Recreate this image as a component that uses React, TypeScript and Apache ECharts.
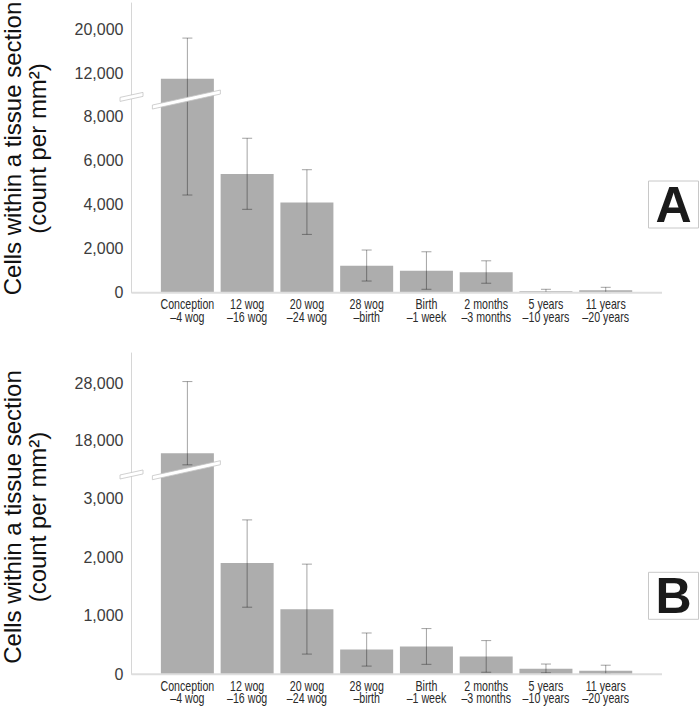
import React, { useEffect, useRef } from "react";
import * as echarts from "echarts";

// ---------- data ----------
const categories = [
  "Conception\n–4 wog",
  "12 wog\n–16 wog",
  "20 wog\n–24 wog",
  "28 wog\n–birth",
  "Birth\n–1 week",
  "2 months\n–3 months",
  "5 years\n–10 years",
  "11 years\n–20 years",
];

const meanA = [11000, 5400, 4100, 1230, 1000, 930, 65, 110];
const lowA = [4440, 3790, 2650, 530, 155, 430, 0, 0];
const highA = [18400, 7020, 5590, 1940, 1860, 1450, 155, 245];

const meanB = [15800, 1900, 1110, 425, 475, 305, 95, 60];
const lowB = [13800, 1145, 345, 140, 170, 35, 25, 5];
const highB = [28300, 2635, 1880, 705, 780, 575, 175, 155];

const ticksA = [0, 2000, 4000, 6000, 8000, 12000, 20000];
const ticksB = [0, 1000, 2000, 3000, 18000, 28000];

// ---------- scale-break definitions (axis units) ----------
const breakA = { lowerMax: 8900, anchorV: 12000, anchorT: 9973, slope: 0.25, axisT: 8900, barT: 8780, max: 13168 };
const breakB = { lowerMax: 3450, anchorV: 18000, anchorT: 3986, slope: 0.098, axisT: 3410, barT: 3483, max: 5483 };

const makeTf = (b: any) => (v: number) => (v <= b.lowerMax ? v : b.anchorT + (v - b.anchorV) * b.slope);

// ---------- layout ----------
const GRID_LEFT = 157.5;
const GRID_RIGHT = 64.4;
const Y_OFFSET = 26;
const AXIS_END_X = 662;
const FONT = "Liberation Sans";

function panelSeries(idx: number, mean: number[], low: number[], high: number[], ticks: number[], b: any) {
  const tf = makeTf(b);
  const errStyle = { stroke: "rgba(0,0,0,0.36)", lineWidth: 1 };
  return [
    {
      type: "bar",
      xAxisIndex: idx,
      yAxisIndex: idx,
      data: mean.map(tf),
      barWidth: 53,
      itemStyle: { color: "#adadad" },
      silent: true,
      z: 2,
    },
    {
      type: "custom",
      xAxisIndex: idx,
      yAxisIndex: idx,
      silent: true,
      z: 3,
      data: mean.map((_, i) => [i, tf(low[i]), tf(high[i])]),
      renderItem: (params: any, api: any) => {
        const i = api.value(0);
        const lo = api.coord([i, api.value(1)]);
        const hi = api.coord([i, api.value(2)]);
        const cap = 5;
        return {
          type: "group",
          children: [
            { type: "line", shape: { x1: lo[0], y1: lo[1], x2: hi[0], y2: hi[1] }, style: errStyle },
            { type: "line", shape: { x1: lo[0] - cap, y1: lo[1], x2: lo[0] + cap, y2: lo[1] }, style: errStyle },
            { type: "line", shape: { x1: hi[0] - cap, y1: hi[1], x2: hi[0] + cap, y2: hi[1] }, style: errStyle },
          ],
        };
      },
    },
    // y tick labels
    {
      type: "custom",
      xAxisIndex: idx,
      yAxisIndex: idx,
      silent: true,
      clip: false,
      z: 4,
      data: ticks.map((v) => [0, tf(v), v]),
      renderItem: (params: any, api: any) => {
        const p = api.coord([0, api.value(1)]);
        const x = params.coordSys.x - Y_OFFSET - 8;
        return {
          type: "text",
          x,
          y: p[1],
          style: {
            text: Number(api.value(2)).toLocaleString("en-US"),
            fill: "#3c3c3c",
            fontFamily: FONT,
            fontSize: 16,
            align: "right",
            verticalAlign: "middle",
          },
        };
      },
    },
    // x category labels (condensed)
    {
      type: "custom",
      xAxisIndex: idx,
      yAxisIndex: idx,
      silent: true,
      clip: false,
      z: 4,
      data: categories.map((_, i) => [i, 0]),
      renderItem: (params: any, api: any) => {
        const i = api.value(0);
        const p = api.coord([i, 0]);
        const lines = categories[i].split("\n");
        return {
          type: "group",
          children: lines.map((t, k) => ({
            type: "text",
            x: p[0],
            y: p[1] + 12 + k * 12.4,
            scaleX: 0.76,
            style: {
              text: t,
              fill: "#2a2a2a",
              fontFamily: FONT,
              fontSize: 14,
              align: "center",
              verticalAlign: "middle",
            },
          })),
        };
      },
    },
    // baseline + break marks
    {
      type: "custom",
      xAxisIndex: idx,
      yAxisIndex: idx,
      silent: true,
      clip: false,
      z: 5,
      data: [[0, b.barT, b.axisT]],
      renderItem: (params: any, api: any) => {
        const cs = params.coordSys;
        const c = api.coord([0, api.value(1)]);
        const ay = api.coord([0, api.value(2)])[1];
        const base = api.coord([0, 0])[1];
        const ax = cs.x - Y_OFFSET;
        const band = (cx: number, cy: number, hl: number, dy: number) => ({
          type: "polygon",
          shape: {
            points: [
              [cx - hl, cy + dy - 2],
              [cx + hl, cy - dy - 2],
              [cx + hl, cy - dy + 2],
              [cx - hl, cy + dy + 2],
            ],
          },
          style: { fill: "#ffffff", stroke: "#c4c4c4", lineWidth: 0.8 },
        });
        return {
          type: "group",
          children: [
            { type: "line", shape: { x1: ax, y1: base, x2: AXIS_END_X, y2: base }, style: { stroke: "#dedede", lineWidth: 2 } },
            band(c[0] - 1, c[1], 34, 7.5),
            band(ax, ay, 11.5, 2.5),
          ],
        };
      },
    },
  ];
}

export default function App() {
  const ref = useRef<HTMLDivElement>(null);
  useEffect(() => {
    document.body.style.margin = "0";
    const chart = echarts.init(ref.current!, null, { renderer: "svg" });
    const xAxisCommon = {
      type: "category",
      data: categories,
      axisLine: { show: false },
      axisTick: { show: false },
      axisLabel: { show: false },
    };
    const yAxisCommon = {
      type: "value",
      min: 0,
      offset: Y_OFFSET,
      axisLine: { show: true, lineStyle: { color: "#d6d6d6", width: 1 } },
      axisTick: { show: false },
      axisLabel: { show: false },
      splitLine: { show: false },
    };
    const titleStyle = (text: string) => ({
      text,
      fontFamily: FONT,
      fontSize: 24,
      fill: "#111",
      align: "center",
      verticalAlign: "middle",
    });
    const option: any = {
      animation: false,
      backgroundColor: "#ffffff",
      grid: [
        { left: GRID_LEFT, right: GRID_RIGHT, top: 3, bottom: 708 - 292.7, outerBoundsMode: "none" },
        { left: GRID_LEFT, right: GRID_RIGHT, top: 353, bottom: 708 - 674.3, outerBoundsMode: "none" },
      ],
      xAxis: [
        { ...xAxisCommon, gridIndex: 0 },
        { ...xAxisCommon, gridIndex: 1 },
      ],
      yAxis: [
        { ...yAxisCommon, gridIndex: 0, max: breakA.max },
        { ...yAxisCommon, gridIndex: 1, max: breakB.max },
      ],
      series: [
        ...panelSeries(0, meanA, lowA, highA, ticksA, breakA),
        ...panelSeries(1, meanB, lowB, highB, ticksB, breakB),
      ],
      graphic: [
        { type: "text", x: 12, y: 148.5, rotation: Math.PI / 2, style: titleStyle("Cells within a tissue section") },
        { type: "text", x: 37, y: 148.5, rotation: Math.PI / 2, style: titleStyle("(count per mm²)") },
        { type: "text", x: 12, y: 517, rotation: Math.PI / 2, style: titleStyle("Cells within a tissue section") },
        { type: "text", x: 37, y: 517, rotation: Math.PI / 2, style: titleStyle("(count per mm²)") },
        { type: "rect", shape: { x: 648.5, y: 181, width: 50, height: 47 }, style: { fill: "#fff", stroke: "#c8c8c8", lineWidth: 1 } },
        { type: "text", x: 673.5, y: 205, style: { text: "A", fontFamily: FONT, fontWeight: "bold", fontSize: 50, fill: "#1a1a1a", align: "center", verticalAlign: "middle" } },
        { type: "rect", shape: { x: 648.5, y: 572.3, width: 50, height: 47 }, style: { fill: "#fff", stroke: "#c8c8c8", lineWidth: 1 } },
        { type: "text", x: 673.5, y: 596, style: { text: "B", fontFamily: FONT, fontWeight: "bold", fontSize: 50, fill: "#1a1a1a", align: "center", verticalAlign: "middle" } },
      ],
    };
    chart.setOption(option);
    return () => chart.dispose();
  }, []);
  return <div ref={ref} style={{ position: "absolute", left: 0, top: 0, width: 700, height: 708 }} />;
}
